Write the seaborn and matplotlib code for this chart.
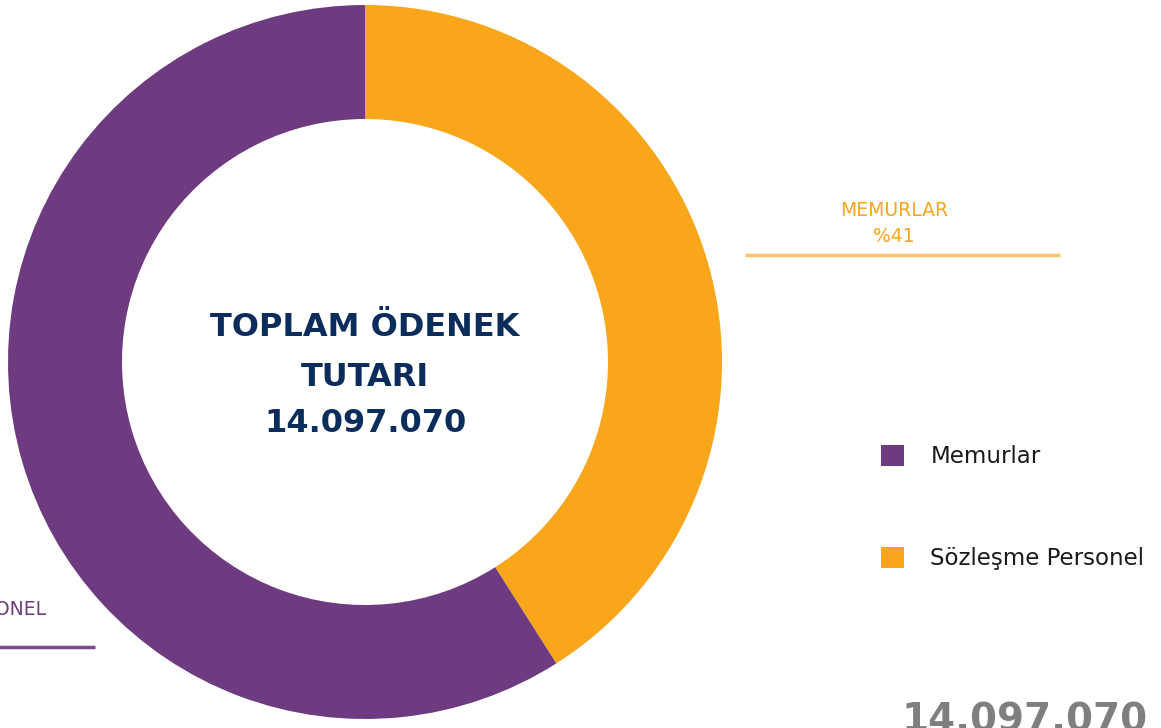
import matplotlib
matplotlib.use("Agg")
import matplotlib.pyplot as plt
from matplotlib.patches import Patch
import seaborn as sns

# slice data (clockwise from 12 o'clock)
slice_names = ["MEMURLAR", "SÖZLEŞME PERSONEL"]
slice_shares = [41, 59]
slice_colors = ["#f9a61b", "#6f3b80"]

# legend entries as shown in the source
legend_names = ["Memurlar", "Sözleşme Personel"]
legend_colors = ["#6f3b80", "#f9a61b"]

total_label = "14.097.070"

sns.set_theme(style="white")
plt.rcParams["font.family"] = ["DejaVu Sans"]

W, H = 1161, 728
fig = plt.figure(figsize=(W / 100, H / 100), dpi=100)
ax = fig.add_axes([0, 0, 1, 1])

# donut, coordinates in pixels (y from bottom)
cx, cy, r_out, r_in = 365, H - 362, 357, 243
wedges, _ = ax.pie(slice_shares, colors=slice_colors, startangle=90, counterclock=False,
                   center=(cx, cy), radius=r_out, frame=True,
                   wedgeprops=dict(width=r_out - r_in, linewidth=0))
ax.set_xlim(0, W)
ax.set_ylim(0, H)
ax.set_aspect("equal")
ax.axis("off")

navy = "#0b2d5b"
for y, s in [(328, "TOPLAM ÖDENEK"), (377, "TUTARI"), (423, total_label)]:
    ax.text(cx, H - y, s, ha="center", va="center", fontsize=23,
            fontweight="bold", color=navy)

# callouts
ax.text(894, H - 211, slice_names[0], ha="center", va="center", fontsize=13.5,
        color=slice_colors[0])
ax.text(894, H - 237, f"%{slice_shares[0]}", ha="center", va="center", fontsize=13.5,
        color=slice_colors[0])
ax.plot([745, 1060], [H - 255, H - 255], color="#fcc35e", lw=2.5, solid_capstyle="butt")

ax.text(46, H - 608, slice_names[1], ha="right", va="center", fontsize=13.5,
        color=slice_colors[1])
ax.text(-80, H - 634, f"%{slice_shares[1]}", ha="center", va="center", fontsize=13.5,
        color=slice_colors[1])
ax.plot([-250, 95], [H - 647, H - 647], color="#7b4a8c", lw=2.5, solid_capstyle="butt")

# legend
handles = [Patch(facecolor=c, edgecolor="none") for c in legend_colors]
leg = ax.legend(handles, legend_names, loc="upper left", bbox_to_anchor=(881 / W, 1 - 445 / H),
                frameon=False, fontsize=16.5, handlelength=1.0, handleheight=1.0,
                handletextpad=1.15, labelspacing=3.45, borderpad=0, borderaxespad=0)
for t in leg.get_texts():
    t.set_color("#1a1a1a")

# big grey total at the bottom
ax.text(902, H - 702, total_label, ha="left", va="top", fontsize=28, fontweight="bold",
        color="#7f7f7f")

fig.savefig("out.png", dpi=100)
